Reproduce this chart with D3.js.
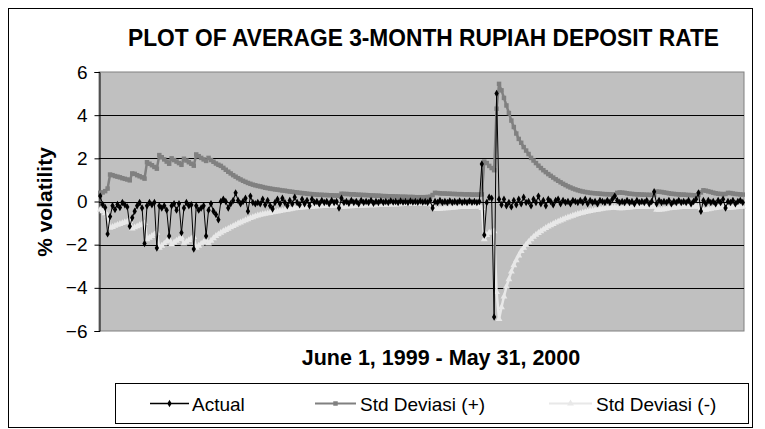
<!DOCTYPE html>
<html><head><meta charset="utf-8">
<script src="https://cdn.jsdelivr.net/npm/d3@7"></script>
<style>body{margin:0;background:#fff}svg{display:block}text{font-family:"Liberation Sans",Arial,sans-serif}</style>
</head><body><svg id="c" width="765" height="429"></svg>
<script>
const chartTitle = "PLOT OF AVERAGE 3-MONTH RUPIAH DEPOSIT RATE";
const xTitle = "June 1, 1999 - May 31, 2000";
const yTitle = "% volatility";
const yTicks = [-6, -4, -2, 0, 2, 4, 6];
const seriesNames = ["Actual", "Std Deviasi (+)", "Std Deviasi (-)"];

// daily observations, June 1, 1999 - May 31, 2000 (262 business days)
const actual = [
  0.25,-0.14,-0.28,-1.5,-0.7,-0.2,-0.37,-0.14,-0.28,-0.05,
  -0.15,-0.25,-1.15,-0.75,-0.45,-0.2,-0.05,-0.3,-1.95,-0.2,
  -0.05,-0.15,-0.05,-2.15,-0.2,-0.3,-0.2,-0.4,-1.6,-0.2,
  -0.1,-0.4,-0.1,-1.45,-0.3,-0.05,-0.2,-0.15,-2.2,-0.2,
  -0.4,-0.3,-0.2,-1.6,-0.4,-0.1,-0.45,-0.6,-0.85,0.0,
  0.1,0.0,-0.3,-0.1,0.05,0.4,0.05,-0.1,0.0,0.15,
  -0.45,0.25,-0.05,-0.1,-0.05,-0.1,0.1,-0.15,0.05,-0.2,
  -0.35,-0.05,0.1,-0.1,0.15,-0.05,-0.2,0.05,-0.1,0.2,
  -0.05,-0.15,0.1,-0.1,0.05,-0.2,0.1,-0.05,0.0,-0.1,
  0.05,-0.05,0.0,-0.1,0.05,-0.05,0.0,-0.3,0.15,-0.05,
  0.0,-0.08,0.05,-0.05,0.0,-0.1,0.05,-0.05,0.0,-0.05,
  0.05,-0.08,0.0,-0.05,0.03,-0.05,0.0,-0.05,0.03,-0.03,
  0.0,-0.05,0.02,-0.03,0.0,-0.05,0.02,-0.03,0.0,-0.04,
  0.02,-0.03,0.0,-0.05,0.05,-0.3,0.0,-0.05,0.05,-0.05,
  0.0,-0.05,0.03,-0.05,0.0,-0.05,0.02,-0.05,0.0,-0.05,
  0.02,-0.04,0.0,-0.05,0.0,1.74,-1.55,-0.05,0.2,0.15,
  -5.35,5.0,0.1,-0.15,0.1,-0.2,-0.05,-0.25,0.05,-0.15,
  0.1,-0.1,0.2,-0.05,0.0,-0.2,0.1,-0.05,0.25,-0.1,
  0.05,-0.2,0.1,0.0,-0.15,0.05,0.1,-0.1,0.05,-0.05,
  0.0,-0.1,0.05,0.0,-0.05,0.05,-0.05,0.1,-0.1,0.05,
  -0.05,0.0,-0.1,0.05,0.0,-0.05,0.05,-0.05,0.1,0.25,
  0.05,-0.05,0.0,-0.05,0.05,-0.05,0.0,-0.1,0.05,-0.05,
  0.0,-0.05,0.05,-0.1,0.0,0.45,-0.1,0.05,-0.05,0.0,
  -0.05,0.05,-0.1,0.0,-0.05,0.05,-0.05,0.0,-0.05,0.05,
  -0.1,0.0,0.1,0.4,-0.45,0.05,-0.1,0.05,-0.05,0.0,
  -0.1,0.05,-0.05,0.1,-0.3,0.0,-0.05,0.05,-0.1,0.0,
  0.05,-0.05
];
const stdPlus = [
  0.4,0.42,0.48,0.6,1.25,1.22,1.18,1.15,1.12,1.08,
  1.05,1.02,0.98,1.3,1.28,1.22,1.17,1.12,1.06,1.82,
  1.75,1.68,1.6,1.52,2.15,2.05,1.95,1.85,1.75,2.0,
  1.92,1.85,1.78,1.7,1.98,1.9,1.82,1.75,1.66,2.18,
  2.1,2.02,1.95,1.88,2.02,1.92,1.84,1.76,1.7,1.65,
  1.56,1.47,1.38,1.3,1.22,1.15,1.08,1.02,0.96,0.91,
  0.86,0.82,0.78,0.75,0.72,0.7,0.67,0.64,0.62,0.6,
  0.58,0.56,0.55,0.53,0.51,0.5,0.48,0.46,0.45,0.43,
  0.42,0.4,0.39,0.38,0.36,0.35,0.34,0.33,0.32,0.31,
  0.31,0.3,0.3,0.29,0.29,0.28,0.28,0.27,0.36,0.35,
  0.35,0.34,0.33,0.33,0.32,0.31,0.31,0.3,0.3,0.29,
  0.28,0.28,0.27,0.27,0.26,0.25,0.25,0.24,0.24,0.24,
  0.23,0.23,0.22,0.22,0.22,0.21,0.21,0.21,0.2,0.2,
  0.2,0.2,0.2,0.21,0.22,0.3,0.4,0.39,0.38,0.37,
  0.37,0.36,0.36,0.35,0.35,0.34,0.34,0.34,0.33,0.33,
  0.33,0.32,0.32,0.32,0.32,0.33,1.85,1.78,1.65,1.55,
  1.45,4.3,5.45,5.15,4.8,4.45,4.1,3.75,3.45,3.15,
  2.9,2.72,2.52,2.36,2.2,2.02,1.9,1.78,1.66,1.55,
  1.45,1.36,1.27,1.19,1.11,1.03,0.96,0.89,0.82,0.76,
  0.7,0.65,0.6,0.56,0.52,0.49,0.46,0.44,0.42,0.4,
  0.39,0.38,0.37,0.36,0.35,0.34,0.34,0.33,0.33,0.32,
  0.4,0.42,0.41,0.4,0.38,0.36,0.35,0.34,0.33,0.33,
  0.32,0.32,0.31,0.31,0.3,0.3,0.46,0.45,0.44,0.42,
  0.4,0.38,0.36,0.35,0.34,0.33,0.32,0.32,0.31,0.3,
  0.3,0.29,0.29,0.3,0.42,0.52,0.5,0.47,0.44,0.41,
  0.38,0.36,0.35,0.34,0.35,0.4,0.39,0.37,0.35,0.34,
  0.33,0.32
];
const stdMinus = [
  -0.38,-0.45,-0.55,-0.65,-1.22,-1.18,-1.13,-1.08,-1.04,-1.0,
  -0.96,-0.93,-0.9,-1.25,-1.2,-1.15,-1.1,-1.05,-1.0,-1.75,
  -1.68,-1.6,-1.52,-1.45,-2.15,-2.05,-1.95,-1.85,-1.75,-1.98,
  -1.9,-1.82,-1.74,-1.67,-1.95,-1.87,-1.79,-1.72,-1.65,-2.15,
  -2.05,-1.96,-1.88,-1.8,-1.95,-1.82,-1.7,-1.6,-1.52,-1.45,
  -1.38,-1.32,-1.26,-1.2,-1.14,-1.08,-1.02,-0.97,-0.92,-0.87,
  -0.82,-0.77,-0.73,-0.69,-0.65,-0.62,-0.59,-0.57,-0.55,-0.53,
  -0.5,-0.48,-0.46,-0.44,-0.42,-0.4,-0.38,-0.36,-0.34,-0.32,
  -0.3,-0.29,-0.28,-0.27,-0.26,-0.25,-0.24,-0.23,-0.22,-0.22,
  -0.21,-0.21,-0.2,-0.2,-0.2,-0.19,-0.19,-0.19,-0.24,-0.23,
  -0.23,-0.22,-0.22,-0.21,-0.21,-0.2,-0.2,-0.19,-0.19,-0.18,
  -0.18,-0.17,-0.17,-0.16,-0.16,-0.15,-0.15,-0.15,-0.14,-0.14,
  -0.14,-0.13,-0.13,-0.12,-0.12,-0.12,-0.11,-0.11,-0.11,-0.1,
  -0.1,-0.1,-0.1,-0.11,-0.13,-0.25,-0.34,-0.35,-0.34,-0.33,
  -0.32,-0.31,-0.3,-0.29,-0.28,-0.27,-0.26,-0.26,-0.25,-0.25,
  -0.24,-0.24,-0.23,-0.23,-0.23,-0.3,-1.75,-1.55,-1.45,-1.42,
  -1.38,-4.2,-5.45,-4.9,-4.4,-3.95,-3.6,-3.25,-2.95,-2.72,
  -2.5,-2.3,-2.15,-2.0,-1.87,-1.75,-1.64,-1.54,-1.46,-1.38,
  -1.3,-1.23,-1.16,-1.1,-1.04,-0.98,-0.93,-0.88,-0.83,-0.78,
  -0.74,-0.7,-0.66,-0.62,-0.58,-0.55,-0.52,-0.49,-0.46,-0.44,
  -0.42,-0.4,-0.38,-0.36,-0.34,-0.32,-0.31,-0.3,-0.29,-0.28,
  -0.3,-0.32,-0.31,-0.3,-0.29,-0.28,-0.27,-0.26,-0.26,-0.25,
  -0.25,-0.24,-0.24,-0.24,-0.23,-0.23,-0.38,-0.38,-0.37,-0.36,
  -0.34,-0.32,-0.3,-0.29,-0.28,-0.27,-0.26,-0.25,-0.25,-0.24,
  -0.24,-0.23,-0.23,-0.24,-0.32,-0.4,-0.38,-0.36,-0.34,-0.32,
  -0.3,-0.28,-0.27,-0.26,-0.26,-0.3,-0.29,-0.28,-0.27,-0.26,
  -0.25,-0.25
];

const svg = d3.select("#c");
const P = {x0: 99, x1: 744, y0: 72, y1: 331};
const idx = d3.range(actual.length);
const x = d3.scalePoint().domain(idx).range([P.x0, P.x1]).padding(0.5);
const y = d3.scaleLinear().domain([-6, 6]).range([P.y1, P.y0]);
const FONT = '"Liberation Sans", Arial, sans-serif';

// chart frame
svg.append("rect").attr("x", 8.5).attr("y", 8.5).attr("width", 744).attr("height", 419)
  .attr("fill", "#fff").attr("stroke", "#000").attr("stroke-width", 1);

// title
svg.append("text").attr("x", 423.5).attr("y", 46).attr("text-anchor", "middle")
  .attr("font-size", 23).attr("font-weight", "bold")
  .attr("textLength", 591).attr("lengthAdjust", "spacingAndGlyphs").text(chartTitle);

// plot area
svg.append("rect").attr("x", P.x0).attr("y", P.y0).attr("width", P.x1 - P.x0).attr("height", P.y1 - P.y0)
  .attr("fill", "#c0c0c0").attr("stroke", "#808080").attr("stroke-width", 1);

// gridlines
svg.append("g").selectAll("line").data(yTicks.filter(t => t > -6 && t < 6)).join("line")
  .attr("x1", P.x0).attr("x2", P.x1)
  .attr("y1", d => Math.round(y(d)) + 0.5).attr("y2", d => Math.round(y(d)) + 0.5)
  .attr("stroke", "#000").attr("stroke-width", 1);

// y axis
const ya = svg.append("g").attr("transform", `translate(${P.x0 + 0.5},0)`)
  .call(d3.axisLeft(y).tickValues(yTicks).tickSize(5).tickPadding(7).tickFormat(d3.format("d")));
ya.select(".domain").attr("stroke", "#000");
ya.selectAll(".tick line").attr("stroke", "#000");
ya.selectAll(".tick text").attr("font-size", 19).attr("fill", "#000").attr("font-family", FONT);

// axis titles
svg.append("text").attr("transform", "translate(52,202) rotate(-90)").attr("text-anchor", "middle")
  .attr("font-size", 21).attr("font-weight", "bold").text(yTitle);
svg.append("text").attr("x", 441).attr("y", 365).attr("text-anchor", "middle")
  .attr("font-size", 21.5).attr("font-weight", "bold").text(xTitle);

// series
const styles = [
  {data: actual, color: "#000000", width: 1, sym: d3.symbolDiamond, size: 16},
  {data: stdPlus, color: "#808080", width: 2.5, sym: d3.symbolSquare, size: 20},
  {data: stdMinus, color: "#e8e8e8", width: 2.5, sym: d3.symbolTriangle, size: 20}
];
const line = d3.line().x((d, i) => x(i)).y(d => y(d));
const drawOrder = [1, 2, 0];
drawOrder.forEach(k => {
  const s = styles[k];
  const g = svg.append("g");
  g.append("path").datum(s.data).attr("d", line).attr("fill", "none")
    .attr("stroke", s.color).attr("stroke-width", s.width).attr("stroke-linejoin", "round");
  g.selectAll("path.m").data(s.data).join("path").attr("class", "m")
    .attr("transform", (d, i) => `translate(${x(i)},${y(d)})`)
    .attr("d", d3.symbol().type(s.sym).size(s.size)).attr("fill", s.color);
});

// legend
const L = {x0: 115.5, y0: 383.5, w: 633, h: 40};
svg.append("rect").attr("x", L.x0).attr("y", L.y0).attr("width", L.w).attr("height", L.h)
  .attr("fill", "#fff").attr("stroke", "#000");
const legendPos = [{l: 150, r: 189, t: 192}, {l: 315, r: 356, t: 360}, {l: 549, r: 592, t: 596}];
const ly = L.y0 + L.h / 2;
seriesNames.forEach((name, k) => {
  const p = legendPos[k], s = styles[k];
  svg.append("line").attr("x1", p.l).attr("x2", p.r).attr("y1", ly).attr("y2", ly)
    .attr("stroke", s.color).attr("stroke-width", k === 0 ? 1.5 : 2);
  svg.append("path").attr("transform", `translate(${(p.l + p.r) / 2},${ly})`)
    .attr("d", d3.symbol().type(s.sym).size(s.size)).attr("fill", s.color);
  svg.append("text").attr("x", p.t).attr("y", ly + 7).attr("font-size", 19).text(name);
});
</script>
</body></html>
